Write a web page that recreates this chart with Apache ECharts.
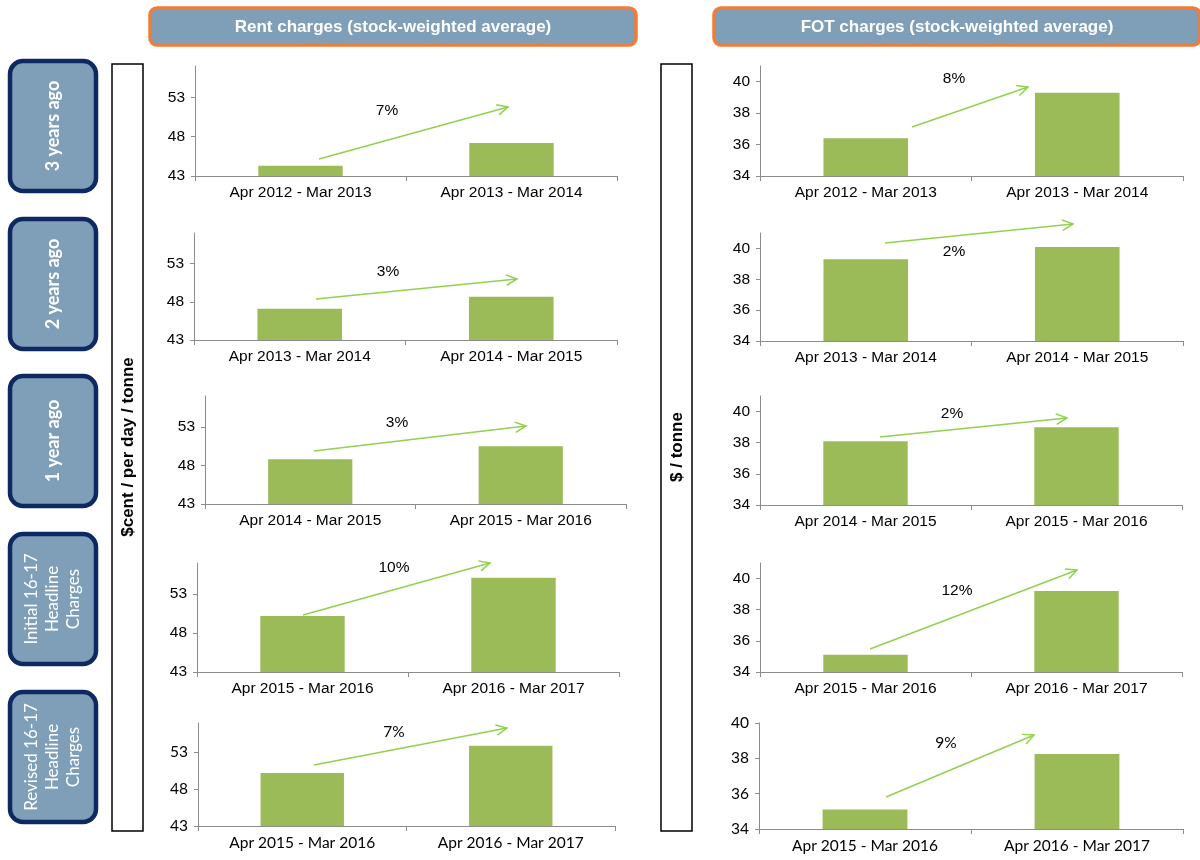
<!DOCTYPE html>
<html>
<head>
<meta charset="utf-8">
<script src="https://cdn.jsdelivr.net/npm/echarts@6/dist/echarts.min.js"></script>
<style>
  html, body { margin: 0; padding: 0; background: #fff; }
  #main { width: 1200px; height: 860px; }
</style>
</head>
<body>
<div id="main"></div>
<script>
// periods and row labels
const periods = ['Apr 2012 - Mar 2013', 'Apr 2013 - Mar 2014', 'Apr 2014 - Mar 2015', 'Apr 2015 - Mar 2016', 'Apr 2016 - Mar 2017'];
const rowLabels = ['3 years ago', '2 years ago', '1 year ago', 'Initial 16-17\nHeadline\nCharges', 'Revised 16-17\nHeadline\nCharges'];
const rowPeriods = [[0, 1], [1, 2], [2, 3], [3, 4], [3, 4]];

// values
const rentValues = [[44.3, 47.2], [47.1, 48.65], [48.8, 50.5], [50.2, 55.1], [50.2, 53.9]];
const fotValues = [[36.4, 39.3], [39.3, 40.1], [38.1, 39.0], [35.1, 39.2], [35.1, 38.25]];
const rentGrowth = ['7%', '3%', '3%', '10%', '7%'];
const fotGrowth = ['8%', '2%', '2%', '12%', '9%'];

// axis ticks
const rentTicks = [43, 48, 53];
const fotTicks = [34, 36, 38, 40];
const rentMin = 43, rentMax = [57, 57, 57, 57, 57];
const fotMin = 34, fotMax = [41, 41, 41, 41, 40];

// layout (pixels)
const rentGrids = [[195, 66, 422, 110], [194, 233, 423, 107], [205, 396, 421, 108], [197, 563, 422, 109], [198, 723, 417, 103]];
const fotGrids = [[760, 66, 423, 110], [760, 233, 423, 108], [760, 396, 422, 109], [760, 563, 422, 109], [759, 723, 424, 106]];
const rentArrows = [[319, 159, 508, 107], [316, 299, 517, 279], [314, 451, 526, 426], [303, 615, 490, 563], [314, 765, 507, 728]];
const rentPctPos = [[387, 111], [388, 272], [397, 423], [394, 568], [394, 732]];
const fotArrows = [[912, 127, 1028, 87], [885, 243, 1073, 224], [880, 437, 1067, 418], [870, 649, 1077, 570], [886, 797, 1034, 735]];
const fotPctPos = [[954, 79], [954, 252], [952, 414], [957, 591], [946, 743]];
const rowBoxTop = [61, 219, 376, 534, 692];

const barColor = '#9BBB59';
const arrowColor = '#92D050';
const boxFill = '#7F9FB9';
const axisGray = '#8C8C8C';
const arial = '"Liberation Sans", Arial, sans-serif';
const calibri = 'Lato, "Open Sans", sans-serif';

const chart = echarts.init(document.getElementById('main'));

const grids = [], xAxes = [], yAxes = [], series = [];

function addPanel(g, cats, vals, min, max, ticks, font, fontSize) {
  const i = grids.length;
  grids.push({ left: g[0], top: g[1], width: g[2], height: g[3] });
  xAxes.push({
    gridIndex: i, type: 'category', data: cats,
    axisLine: { lineStyle: { color: axisGray, width: 1 } },
    axisTick: { show: true, length: 5, lineStyle: { color: axisGray } },
    axisLabel: { color: '#000', fontSize: fontSize, fontFamily: font, margin: 9, interval: 0 }
  });
  yAxes.push({
    gridIndex: i, type: 'value', min: min, max: max,
    axisLine: { show: true, lineStyle: { color: axisGray, width: 1 } },
    axisTick: { show: true, length: 4, customValues: ticks, lineStyle: { color: axisGray } },
    axisLabel: { color: '#000', fontSize: fontSize, fontFamily: font, margin: 10, customValues: ticks },
    splitLine: { show: false }
  });
  series.push({
    type: 'bar', xAxisIndex: i, yAxisIndex: i, data: vals,
    barWidth: '40%', itemStyle: { color: barColor }
  });
}

for (let r = 0; r < 5; r++) {
  const cats = rowPeriods[r].map(k => periods[k]);
  const font = r === 4 ? calibri : arial;
  addPanel(rentGrids[r], cats, rentValues[r], rentMin, rentMax[r], rentTicks, font, 15.5);
}
for (let r = 0; r < 5; r++) {
  const cats = rowPeriods[r].map(k => periods[k]);
  const font = r === 4 ? calibri : arial;
  addPanel(fotGrids[r], cats, fotValues[r], fotMin, fotMax[r], fotTicks, font, 15.5);
}

const graphics = [];

function arrow(a) {
  const [x1, y1, x2, y2] = a;
  const ang = Math.atan2(y2 - y1, x2 - x1), L = 12, w = Math.PI / 7;
  graphics.push({ type: 'line', shape: { x1, y1, x2, y2 }, style: { stroke: arrowColor, lineWidth: 1.5 } });
  graphics.push({
    type: 'polyline',
    shape: { points: [[x2 - L * Math.cos(ang - w), y2 - L * Math.sin(ang - w)], [x2, y2], [x2 - L * Math.cos(ang + w), y2 - L * Math.sin(ang + w)]] },
    style: { stroke: arrowColor, lineWidth: 1.5, fill: null }
  });
}

function label(text, x, y, font, size, weight, color, rot, lh) {
  graphics.push({
    type: 'text', x: x, y: y, rotation: rot || 0,
    style: { text: text, fontFamily: font, fontSize: size, fontWeight: weight, fill: color, align: 'center', verticalAlign: 'middle', lineHeight: lh || size * 1.2 }
  });
}

// headers
[[150, 'Rent charges (stock-weighted average)'], [714, 'FOT charges (stock-weighted average)']].forEach(([x, t]) => {
  graphics.push({ type: 'rect', shape: { x: x, y: 8, width: 486, height: 37, r: 7 }, style: { fill: boxFill, stroke: '#F07C3A', lineWidth: 3.5 } });
  label(t, x + 243, 27, arial, 17, 'bold', '#fff');
});

// row label boxes
for (let r = 0; r < 5; r++) {
  graphics.push({ type: 'rect', shape: { x: 10, y: rowBoxTop[r], width: 86, height: 130, r: 13 }, style: { fill: boxFill, stroke: '#0E2862', lineWidth: 4.5 } });
  const multi = r >= 3;
  label(rowLabels[r], 53, rowBoxTop[r] + 65, calibri, multi ? 17 : 18, multi ? 'normal' : 'bold', '#fff', Math.PI / 2, 21);
}

// y axis title boxes
[[112, '$cent / per day / tonne'], [661, '$ / tonne']].forEach(([x, t]) => {
  graphics.push({ type: 'rect', shape: { x: x, y: 64, width: 31, height: 767 }, style: { fill: '#fff', stroke: '#000', lineWidth: 1.5 } });
  label(t, x + 16, 447, arial, 17, 'bold', '#000', Math.PI / 2);
});

// growth arrows and labels
for (let r = 0; r < 5; r++) {
  const font = r === 4 ? calibri : arial;
  arrow(rentArrows[r]);
  label(rentGrowth[r], rentPctPos[r][0], rentPctPos[r][1], font, 15.5, 'normal', '#000');
  arrow(fotArrows[r]);
  label(fotGrowth[r], fotPctPos[r][0], fotPctPos[r][1], font, 15.5, 'normal', '#000');
}

chart.setOption({
  animation: false,
  grid: grids,
  xAxis: xAxes,
  yAxis: yAxes,
  series: series,
  graphic: graphics
});
</script>
</body>
</html>
